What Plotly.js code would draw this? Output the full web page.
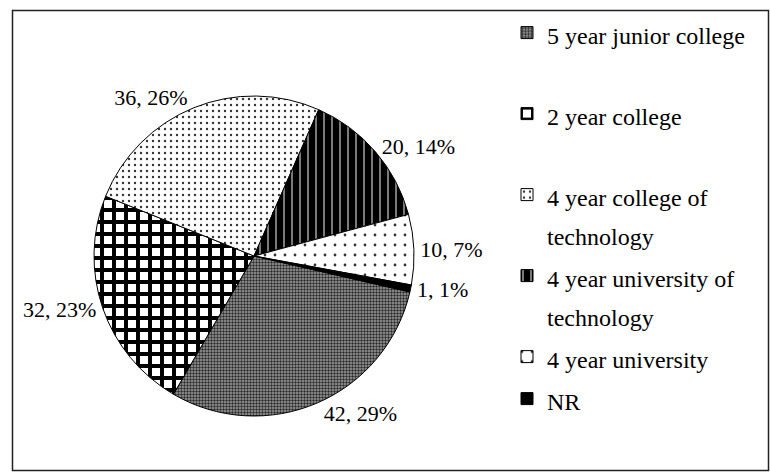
<!DOCTYPE html>
<html>
<head>
<meta charset="utf-8">
<script src="https://cdn.plot.ly/plotly-3.0.1.min.js"></script>
<style>
  html, body { margin: 0; padding: 0; background: #fff; }
  #chart { width: 770px; height: 472px; }
</style>
</head>
<body>
<div id="chart"></div>
<script>
// ---- data ----
const categories = [
  "5 year junior college",
  "2 year college",
  "4 year college of<br>technology",
  "4 year university of<br>technology",
  "4 year university",
  "NR"
];
const counts = [42, 32, 36, 20, 10, 1];
const percentLabels = ["29%", "23%", "26%", "14%", "7%", "1%"];

// ---- styling ----
const patternShapes = [".", "+", ".", "|", ".", ""];
const patternFg = ["#2a2a2a", "#000000", "#333333", "#ffffff", "#333333", "#000000"];
const patternBg = ["#a0a0a0", "#ffffff", "#ffffff", "#000000", "#ffffff", "#000000"];
const patternSize = [3, 12, 6, 8, 10, 8];
const patternSolidity = [0.5, 0.55, 0.12, 0.12, 0.06, 0.3];
const sliceColors = patternBg.slice();

// legend labels: visible text at 24px, extra blank line for spacing
const extraLines = [1, 1, 0, 0, 0, 0];
const legendLabels = categories.map((c, i) => {
  const lines = c.split("<br>").map(l => '<span style="font-size:24px">' + l + '</span>');
  for (let k = 0; k < extraLines[i]; k++) lines.push("\u00a0");
  return lines.join("<br>");
});

const serif = "Liberation Serif, Times New Roman, serif";

const trace = {
  type: "pie",
  labels: legendLabels,
  values: counts,
  text: percentLabels,
  sort: false,
  direction: "clockwise",
  rotation: 103,
  texttemplate: "%{value}, %{text}",
  textposition: "outside",
  outsidetextfont: { family: serif, size: 22, color: "#000" },
  hoverinfo: "label+value",
  marker: {
    colors: sliceColors,
    line: { color: "#000", width: 1 },
    pattern: {
      shape: patternShapes,
      fgcolor: patternFg,
      bgcolor: patternBg,
      size: patternSize,
      solidity: patternSolidity,
      fillmode: "replace"
    }
  },
  domain: { x: [94 / 770, 414 / 770], y: [56 / 472, 376 / 472] }
};

const layout = {
  width: 770,
  height: 472,
  margin: { l: 0, r: 0, t: 0, b: 0 },
  paper_bgcolor: "#ffffff",
  showlegend: true,
  legend: {
    x: 507 / 770,
    xanchor: "left",
    y: 0.986,
    yanchor: "top",
    valign: "top",
    font: { family: serif, size: 30, color: "#000" },
    bgcolor: "rgba(0,0,0,0)",
    tracegroupgap: 0
  },
  shapes: [{
    type: "rect", xref: "paper", yref: "paper",
    x0: 12.5 / 770, x1: 768.5 / 770, y0: 1 - 470.5 / 472, y1: 1 - 10.5 / 472,
    line: { color: "#222", width: 1.5 }, fillcolor: "rgba(0,0,0,0)", layer: "below"
  }]
};

Plotly.newPlot("chart", [trace], layout, { staticPlot: true });
</script>
</body>
</html>
